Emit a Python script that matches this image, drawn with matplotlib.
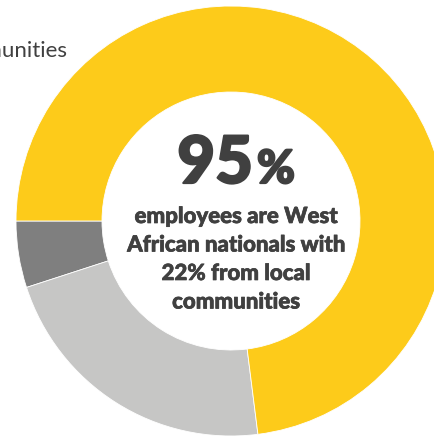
import matplotlib.pyplot as plt
import matplotlib.patheffects as pe

plt.rcParams['font.family'] = ['Lato', 'DejaVu Sans']

# workforce split (%), drawn counter-clockwise from 9 o'clock
groups = ['Expatriates', 'Local communities', 'Other West African nationals']
shares = [5, 22, 73]
colors = ['#7f7f7f', '#c6c6c5', '#fdcb1a']

headline = '95'
caption = ['employees are West', 'African nationals with',
           '22% from local', 'communities']

W, H = 434, 437
cx, cy, R = 231, 221, 215  # pie centre / radius in pixels


def px(x, y):
    # pixel coords (top-left origin) -> data coords
    return (x - cx) / R, (cy - y) / R


fig = plt.figure(figsize=(W / 100, H / 100), dpi=100)
ax = fig.add_axes([0, 0, 1, 1])
ax.pie(shares, colors=colors, startangle=180, counterclock=True,
       radius=1, wedgeprops=dict(width=0.4, edgecolor='white', linewidth=0.6))
ax.set_xlim(-cx / R, (W - cx) / R)
ax.set_ylim(-(H - cy) / R, cy / R)
ax.set_aspect('equal')
ax.axis('off')

txt = '#404040'
# Lato bold is a bit thin next to the original, thicken with a stroke
thick = [pe.withStroke(linewidth=1.6, foreground=txt)]
thin = [pe.withStroke(linewidth=0.5, foreground=txt)]

# big number
x, y = px(253, 183)
ax.text(x, y, headline, ha='right', va='baseline', fontsize=47,
        fontweight='black', color=txt, path_effects=thick)
x, y = px(257, 183)
ax.text(x, y, '%', ha='left', va='baseline', fontsize=33,
        fontweight='black', color=txt, path_effects=thick)

# caption lines
for i, line in enumerate(caption):
    x, y = px(236, 223 + i * 28.5)
    ax.text(x, y, line, ha='center', va='baseline', fontsize=16,
            fontweight='black', color=txt, path_effects=thin)

# cut-off label at the top left
x, y = px(67, 57)
ax.text(x, y, 'communities', ha='right', va='baseline', fontsize=16,
        color=txt)

fig.savefig('out.png', dpi=100)
